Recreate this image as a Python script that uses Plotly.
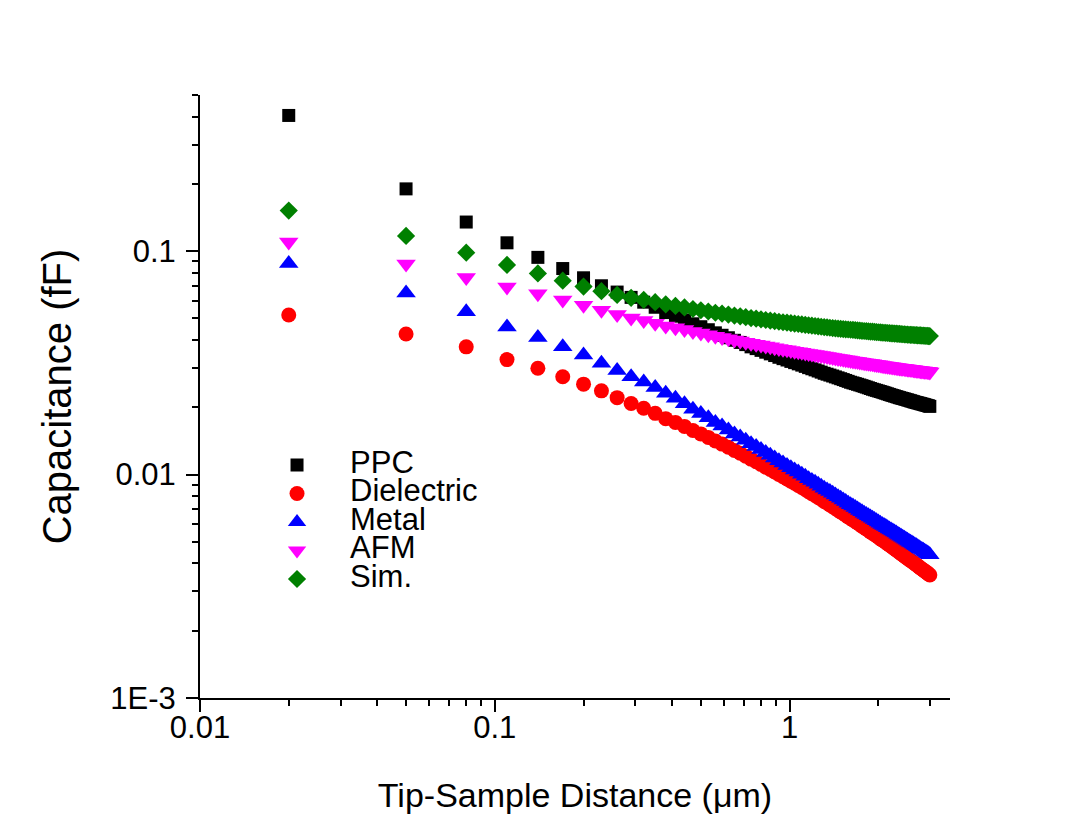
import plotly.graph_objects as go

# Tip-sample distance (um)
x_um = [
    0.02, 0.05, 0.08, 0.11, 0.14, 0.17, 0.20, 0.23, 0.26, 0.29,
    0.32, 0.35, 0.38, 0.41, 0.44, 0.47, 0.50, 0.53, 0.56, 0.59,
    0.62, 0.65, 0.68, 0.71, 0.74, 0.77, 0.80, 0.83, 0.86, 0.89,
    0.92, 0.95, 0.98, 1.01, 1.04, 1.07, 1.10, 1.13, 1.16, 1.19,
    1.22, 1.25, 1.28, 1.31, 1.34, 1.37, 1.40, 1.43, 1.46, 1.49,
    1.52, 1.55, 1.58, 1.61, 1.64, 1.67, 1.70, 1.73, 1.76, 1.79,
    1.82, 1.85, 1.88, 1.91, 1.94, 1.97, 2.00, 2.03, 2.06, 2.09,
    2.12, 2.15, 2.18, 2.21, 2.24, 2.27, 2.30, 2.33, 2.36, 2.39,
    2.42, 2.45, 2.48, 2.51, 2.54, 2.57, 2.60, 2.63, 2.66, 2.69,
    2.72, 2.75, 2.78, 2.81, 2.84, 2.87, 2.90, 2.93, 2.96, 2.99,
]

# Capacitance (fF)
ppc = [
    0.405, 0.190, 0.135, 0.109, 0.0938, 0.0836, 0.0760, 0.0700, 0.0656, 0.0621,
    0.0591, 0.0561, 0.0531, 0.05117, 0.04923, 0.0473, 0.0459, 0.0445, 0.0431, 0.04203,
    0.04097, 0.0399, 0.03903, 0.03817, 0.0373, 0.03663, 0.03597, 0.0353, 0.0347, 0.0341,
    0.0335, 0.03303, 0.03257, 0.0321, 0.0317, 0.0313, 0.0309, 0.0305, 0.0301, 0.02976,
    0.02942, 0.02908, 0.02874, 0.0284, 0.02814, 0.02788, 0.02762, 0.02736, 0.0271, 0.02686,
    0.02662, 0.02638, 0.02614, 0.0259, 0.02572, 0.02554, 0.02536, 0.02518, 0.0250, 0.02482,
    0.02464, 0.02446, 0.02428, 0.0241, 0.02396, 0.02382, 0.02368, 0.02354, 0.0234, 0.02326,
    0.02312, 0.02298, 0.02284, 0.0227, 0.02258, 0.02246, 0.02234, 0.02222, 0.0221, 0.0220,
    0.0219, 0.0218, 0.0217, 0.0216, 0.0215, 0.0214, 0.0213, 0.0212, 0.0211, 0.02102,
    0.02094, 0.02086, 0.02078, 0.0207, 0.02062, 0.02054, 0.02046, 0.02038, 0.0203, 0.0202,
]

dielectric = [
    0.0518, 0.0426, 0.0373, 0.0327, 0.0299, 0.0274, 0.0254, 0.0237, 0.0221, 0.0208,
    0.0198, 0.0188, 0.0178, 0.01712, 0.01643, 0.01575, 0.01521, 0.01467, 0.01413, 0.01369,
    0.01325, 0.01281, 0.01245, 0.01209, 0.01173, 0.01142, 0.01111, 0.0108, 0.01054, 0.01027,
    0.01001, 0.00978, 0.00956, 0.00933, 0.00914, 0.00895, 0.00876, 0.00857, 0.00838, 0.00822,
    0.00806, 0.00791, 0.00775, 0.00759, 0.00746, 0.00732, 0.00719, 0.00705, 0.00692, 0.00681,
    0.0067, 0.00658, 0.00647, 0.00636, 0.00626, 0.00617, 0.00607, 0.00598, 0.00588, 0.0058,
    0.00571, 0.00563, 0.00554, 0.00546, 0.00539, 0.00532, 0.00524, 0.00517, 0.0051, 0.00504,
    0.00497, 0.00491, 0.00484, 0.00478, 0.00472, 0.00466, 0.0046, 0.00454, 0.00448, 0.00443,
    0.00438, 0.00432, 0.00427, 0.00422, 0.00417, 0.00413, 0.00408, 0.00404, 0.00399, 0.00395,
    0.00391, 0.00386, 0.00382, 0.00378, 0.00374, 0.0037, 0.00367, 0.00363, 0.00359, 0.00355,
]

metal = [
    0.0881, 0.0650, 0.0535, 0.0458, 0.0411, 0.0373, 0.0343, 0.0315, 0.0292, 0.0274,
    0.02597, 0.02453, 0.0231, 0.02194, 0.02077, 0.01961, 0.01878, 0.01795, 0.01712, 0.01648,
    0.01585, 0.01521, 0.01472, 0.01423, 0.01374, 0.01334, 0.01294, 0.01254, 0.01221, 0.01187,
    0.01154, 0.01127, 0.01099, 0.01072, 0.01049, 0.01027, 0.01004, 0.00982, 0.00959, 0.00941,
    0.00923, 0.00905, 0.00887, 0.00869, 0.00854, 0.00839, 0.00825, 0.0081, 0.00795, 0.00783,
    0.0077, 0.00758, 0.00745, 0.00733, 0.00723, 0.00712, 0.00702, 0.00691, 0.00681, 0.00672,
    0.00663, 0.00655, 0.00646, 0.00637, 0.00629, 0.00621, 0.00614, 0.00606, 0.00598, 0.00591,
    0.00585, 0.00578, 0.00571, 0.00565, 0.00559, 0.00553, 0.00547, 0.00541, 0.00535, 0.0053,
    0.00524, 0.00519, 0.00513, 0.00508, 0.00503, 0.00498, 0.00494, 0.00489, 0.00484, 0.0048,
    0.00475, 0.00471, 0.00466, 0.00462, 0.00458, 0.00454, 0.0045, 0.00446, 0.00442, 0.00438,
]

afm = [
    0.110, 0.0875, 0.0762, 0.0692, 0.0645, 0.0605, 0.0572, 0.0544, 0.0521, 0.0502,
    0.0489, 0.0476, 0.0463, 0.04543, 0.04457, 0.0437, 0.0430, 0.0423, 0.0416, 0.04107,
    0.04053, 0.0400, 0.03957, 0.03913, 0.0387, 0.03833, 0.03797, 0.0376, 0.0373, 0.0370,
    0.0367, 0.03643, 0.03617, 0.0359, 0.03568, 0.03546, 0.03524, 0.03502, 0.0348, 0.03462,
    0.03444, 0.03426, 0.03408, 0.0339, 0.03374, 0.03358, 0.03342, 0.03326, 0.0331, 0.03296,
    0.03282, 0.03268, 0.03254, 0.0324, 0.03228, 0.03216, 0.03204, 0.03192, 0.0318, 0.0317,
    0.0316, 0.0315, 0.0314, 0.0313, 0.0312, 0.0311, 0.0310, 0.0309, 0.0308, 0.03072,
    0.03064, 0.03056, 0.03048, 0.0304, 0.03032, 0.03024, 0.03016, 0.03008, 0.0300, 0.02994,
    0.02988, 0.02982, 0.02976, 0.0297, 0.02964, 0.02958, 0.02952, 0.02946, 0.0294, 0.02934,
    0.02928, 0.02922, 0.02916, 0.0291, 0.02906, 0.02902, 0.02898, 0.02894, 0.0289, 0.0288,
]

sim = [
    0.152, 0.117, 0.0985, 0.0868, 0.0795, 0.0738, 0.0694, 0.0662, 0.0637, 0.0618,
    0.06047, 0.05913, 0.0578, 0.0569, 0.0560, 0.0551, 0.0544, 0.0537, 0.0530, 0.0525,
    0.0520, 0.0515, 0.05107, 0.05063, 0.0502, 0.04987, 0.04953, 0.0492, 0.0489, 0.0486,
    0.0483, 0.04807, 0.04783, 0.0476, 0.0474, 0.0472, 0.0470, 0.0468, 0.0466, 0.04642,
    0.04624, 0.04606, 0.04588, 0.0457, 0.04556, 0.04542, 0.04528, 0.04514, 0.0450, 0.0449,
    0.0448, 0.0447, 0.0446, 0.0445, 0.0444, 0.0443, 0.0442, 0.0441, 0.0440, 0.04392,
    0.04384, 0.04376, 0.04368, 0.0436, 0.04352, 0.04344, 0.04336, 0.04328, 0.0432, 0.04314,
    0.04308, 0.04302, 0.04296, 0.0429, 0.04284, 0.04278, 0.04272, 0.04266, 0.0426, 0.04254,
    0.04248, 0.04242, 0.04236, 0.0423, 0.04226, 0.04222, 0.04218, 0.04214, 0.0421, 0.04206,
    0.04202, 0.04198, 0.04194, 0.0419, 0.04186, 0.04182, 0.04178, 0.04174, 0.0417, 0.04169,
]

series_names = ["PPC", "Dielectric", "Metal", "AFM", "Sim."]
x_tick_vals = [0.01, 0.1, 1]
x_tick_text = ["0.01", "0.1", "1"]
y_tick_vals = [0.001, 0.01, 0.1]
y_tick_text = ["1E-3", "0.01", "0.1"]
x_minor = [0.02, 0.03, 0.04, 0.05, 0.06, 0.07, 0.08, 0.09,
           0.2, 0.3, 0.4, 0.5, 0.6, 0.7, 0.8, 0.9, 2, 3]
y_minor = [0.002, 0.003, 0.004, 0.005, 0.006, 0.007, 0.008, 0.009,
           0.02, 0.03, 0.04, 0.05, 0.06, 0.07, 0.08, 0.09,
           0.2, 0.3, 0.4, 0.5]

FONT = "Liberation Sans, Arial, Helvetica, sans-serif"
styles = [
    dict(symbol="square", color="#000000", size=13),
    dict(symbol="circle", color="#FF0000", size=15),
    dict(symbol="triangle-up", color="#0000FF", size=17),
    dict(symbol="triangle-down", color="#FF00FF", size=17),
    dict(symbol="diamond", color="#008000", size=14),
]
all_y = [ppc, dielectric, metal, afm, sim]

fig = go.Figure()
for name, ys, st in zip(series_names, all_y, styles):
    fig.add_trace(go.Scatter(
        x=x_um, y=ys, mode="markers",
        name='<span style="font-size:31px">' + name + "</span>",
        marker=dict(symbol=st["symbol"], color=st["color"], size=st["size"],
                    line=dict(width=0)),
    ))

axis_common = dict(
    type="log", showgrid=False, zeroline=False,
    showline=True, linecolor="black", linewidth=2,
    ticks="outside", ticklen=12, tickwidth=2, tickcolor="black",
    tickfont=dict(family=FONT, size=31, color="black"),
    mirror=False,
)

fig.update_xaxes(
    **axis_common,
    range=[-2, 0.5441],
    tickmode="array", tickvals=x_tick_vals, ticktext=x_tick_text,
    ticklabelstandoff=-11,
    minor=dict(tickmode="array", tickvals=x_minor, ticks="outside",
               ticklen=6, tickwidth=2, tickcolor="black", showgrid=False),
    title=dict(text="Tip-Sample Distance (μm)",
               font=dict(family=FONT, size=34, color="black"), standoff=39),
)
fig.update_yaxes(
    **axis_common,
    range=[-3, -0.30103],
    tickmode="array", tickvals=y_tick_vals, ticktext=y_tick_text,
    ticklabelstandoff=4,
    minor=dict(tickmode="array", tickvals=y_minor, ticks="outside",
               ticklen=6, tickwidth=2, tickcolor="black", showgrid=False),
    title=dict(text="Capacitance (fF)",
               font=dict(family=FONT, size=40, color="black"), standoff=26),
)

fig.update_layout(
    width=1089, height=831,
    margin=dict(l=192, r=147, t=87, b=141, autoexpand=False),
    paper_bgcolor="white", plot_bgcolor="white",
    font=dict(family=FONT, color="black"),
    showlegend=True,
    legend=dict(
        x=0.0587, y=0.4182, xanchor="left", yanchor="top",
        bgcolor="rgba(0,0,0,0)", borderwidth=0,
        font=dict(family=FONT, size=19.6, color="black"),
        itemwidth=96, tracegroupgap=0, traceorder="normal",
    ),
)

fig.write_html("out.html")
